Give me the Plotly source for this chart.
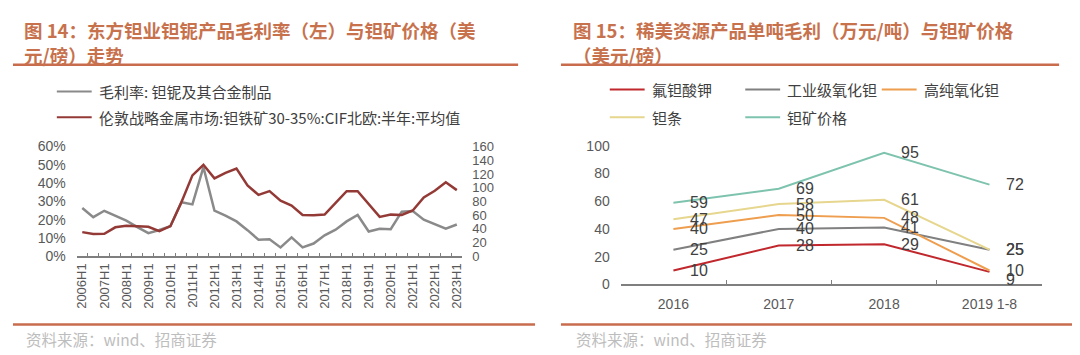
import plotly.graph_objects as go

# ---------------- data ----------------
half_years = [f"{y}H{h}" for y in range(2006, 2024) for h in (1, 2)][:35]
margin_pct = [26.4, 21.4, 24.9, 22.3, 19.5, 16.0, 12.7, 14.4, 16.5, 29.6, 28.4, 48.7,
              25.0, 22.3, 19.1, 14.3, 9.1, 9.3, 4.9, 10.4, 4.9, 7.0, 11.5, 14.6,
              19.1, 22.6, 13.6, 15.1, 14.8, 24.4, 24.8, 20.0, 17.7, 15.1, 17.4]
ore_price = [35.3, 32.5, 33.0, 42.3, 44.5, 44.0, 43.0, 36.7, 44.0, 78.9, 118.0, 133.5,
             113.6, 121.5, 128.0, 103.5, 89.5, 95.0, 81.0, 74.0, 60.3, 60.0, 61.0, 78.0,
             95.0, 95.0, 76.5, 57.5, 60.8, 60.3, 66.8, 85.8, 95.5, 108.0, 96.5]
left_tick_text = [c if i % 2 == 0 else "" for i, c in enumerate(half_years)]

years = ["2016", "2017", "2018", "2019 1-8"]
k_tantalum_fluoride = [10, 28, 29, 9]
industrial_oxide = [25, 40, 41, 25]
high_purity_oxide = [40, 50, 48, 10]
tantalum_bar = [47, 58, 61, 25]
tantalum_ore = [59, 69, 95, 72]

right_series = [
    ("氟钽酸钾", k_tantalum_fluoride, "#C0282D"),
    ("工业级氧化钽", industrial_oxide, "#808080"),
    ("高纯氧化钽", high_purity_oxide, "#EE9E4E"),
    ("钽条", tantalum_bar, "#E6D68E"),
    ("钽矿价格", tantalum_ore, "#7EC3AE"),
]

W, H = 1080, 355
def px(x): return x / W
def py(y): return 1 - y / H

TITLE_C = "#C7724D"
LINE_C = "#C96C4E"
AX_C = "#595959"
CJK = "Noto Sans CJK SC"
LAT = "Liberation Sans, Arial"

fig = go.Figure()

# left chart traces
gray_c, red_c = "#8A8A8A", "#943A36"
fig.add_trace(go.Scatter(x=half_years, y=[v / 100 for v in margin_pct], mode="lines",
                         line=dict(color=gray_c, width=2.5), xaxis="x", yaxis="y",
                         name="毛利率: 钽铌及其合金制品", showlegend=False))
fig.add_trace(go.Scatter(x=half_years, y=ore_price, mode="lines",
                         line=dict(color=red_c, width=2.5), xaxis="x", yaxis="y2",
                         name="伦敦战略金属市场:钽铁矿30-35%:CIF北欧:半年:平均值", showlegend=False))

# right chart traces
annotations = []
for name, vals, col in right_series:
    fig.add_trace(go.Scatter(x=years, y=vals, mode="lines", line=dict(color=col, width=2),
                             xaxis="x2", yaxis="y3", name=name, showlegend=False))
    for i, v in enumerate(vals):
        yshift = -8 if (vals is k_tantalum_fluoride and i == 3) else 0
        # category axis: annotation x given as the category's serial index
        annotations.append(dict(x=i, y=v, xref="x2", yref="y3", text=str(v), showarrow=False,
                                xanchor="left", yanchor="middle", xshift=15, yshift=yshift,
                                font=dict(family=LAT, size=16, color="#404040")))

# titles
def title(x, y, text):
    annotations.append(dict(x=px(x), y=py(y), xref="paper", yref="paper", text=f"<b>{text}</b>",
                            showarrow=False, xanchor="left", yanchor="middle",
                            font=dict(family=CJK, size=18.5, color=TITLE_C)))
title(12, 15, "图 14：东方钽业钽铌产品毛利率（左）与钽矿价格（美")
title(12, 41, "元/磅）走势")
title(563, 15, "图 15：稀美资源产品单吨毛利（万元/吨）与钽矿价格")
title(563, 41, "（美元/磅）")

# sources
for x in (14, 566):
    annotations.append(dict(x=px(x), y=py(338), xref="paper", yref="paper",
                            text="资料来源：wind、招商证券", showarrow=False,
                            xanchor="left", yanchor="middle",
                            font=dict(family=CJK, size=15.5, color="#BDBDBD")))

shapes = []
# separator lines
for x0, x1, y in [(3, 510, 51), (3, 527, 323), (553, 1053, 51), (553, 1070, 323)]:
    shapes.append(dict(type="line", xref="paper", yref="paper", x0=px(x0), x1=px(x1),
                       y0=py(y), y1=py(y), line=dict(color=LINE_C, width=2.5)))

# legends
def legend_item(x, y, color, text):
    shapes.append(dict(type="line", xref="paper", yref="paper", x0=px(x), x1=px(x + 35),
                       y0=py(y), y1=py(y), line=dict(color=color, width=2)))
    annotations.append(dict(x=px(x + 40), y=py(y), xref="paper", yref="paper", text=text,
                            showarrow=False, xanchor="left", yanchor="middle",
                            font=dict(family=CJK, size=15, color="#404040")))

legend_item(47, 79, gray_c, "毛利率: 钽铌及其合金制品")
legend_item(47, 106, red_c, "伦敦战略金属市场:钽铁矿30-35%:CIF北欧:半年:平均值")
legend_pos = [(602, 77), (738, 77), (875, 77), (602, 106), (738, 106)]
for (name, _, col), (lx, ly) in zip(right_series, legend_pos):
    legend_item(lx, ly, col, name)

tickfont = dict(family=LAT, size=14, color=AX_C)
fig.update_layout(
    width=W, height=H, margin=dict(l=0, r=0, t=0, b=0),
    paper_bgcolor="white", plot_bgcolor="white",
    showlegend=False,
    annotations=annotations, shapes=shapes,
    xaxis=dict(domain=[px(67), px(454)], anchor="y", type="category",
               categoryorder="array", categoryarray=half_years,
               range=[-0.5, len(half_years) - 0.5],
               tickmode="array", tickvals=half_years, ticktext=left_tick_text,
               tickson="boundaries", ticks="inside", ticklen=4, tickcolor="#7F7F7F",
               showline=True, linecolor="#7F7F7F", linewidth=1.5, showgrid=False,
               tickangle=-90, tickfont=dict(family=LAT, size=13, color=AX_C)),
    yaxis=dict(domain=[py(251.7), py(136.7)], anchor="x", range=[0, 0.6], dtick=0.1,
               tickformat=".0%", showgrid=False, zeroline=False, showline=False,
               ticklabelstandoff=10, tickfont=tickfont),
    yaxis2=dict(overlaying="y", side="right", anchor="x", range=[0, 160], dtick=20,
                showgrid=False, zeroline=False, showline=False,
                ticklabelstandoff=9, tickfont=dict(family=LAT, size=13, color=AX_C)),
    xaxis2=dict(domain=[px(613), px(1036)], anchor="y3", type="category",
                range=[-0.5, len(years) - 0.5],
                tickson="boundaries", ticks="inside", ticklen=5, tickcolor="#7F7F7F",
                showline=True, linecolor="#7F7F7F", linewidth=1.5, showgrid=False,
                ticklabelstandoff=6, tickfont=tickfont),
    yaxis3=dict(domain=[py(281), py(136)], anchor="x2", range=[0, 100], dtick=20,
                showgrid=False, zeroline=False, showline=False,
                ticklabelstandoff=10, tickfont=tickfont),
)

fig.write_html("out.html")
